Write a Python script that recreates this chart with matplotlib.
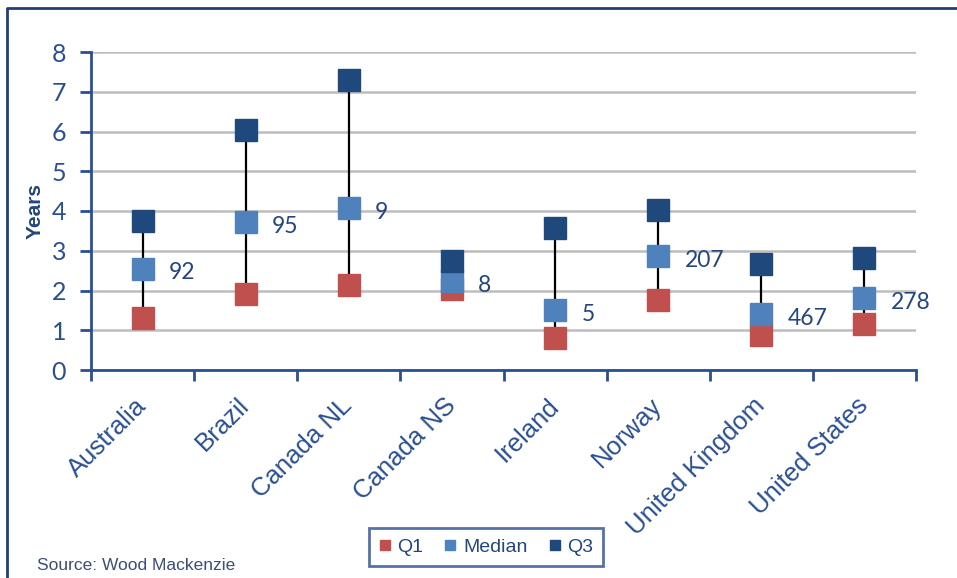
import matplotlib
matplotlib.use("Agg")
import matplotlib.pyplot as plt
import numpy as np
from matplotlib.lines import Line2D
from matplotlib.transforms import ScaledTranslation

# Time-to-first-production quartiles by region (years)
countries = ["Australia", "Brazil", "Canada NL", "Canada NS",
             "Ireland", "Norway", "United Kingdom", "United States"]
q1 = [1.30, 1.91, 2.15, 2.05, 0.81, 1.76, 0.87, 1.16]
median = [2.55, 3.72, 4.07, 2.24, 1.51, 2.87, 1.41, 1.81]
q3 = [3.76, 6.03, 7.30, 2.75, 3.56, 4.02, 2.66, 2.81]
sample_counts = ["92", "95", "9", "8", "5", "207", "467", "278"]
y_ticks = [0, 1, 2, 3, 4, 5, 6, 7, 8]

C_Q1 = "#C0504D"
C_MED = "#4F81BD"
C_Q3 = "#1F497D"
AXIS_BLUE = "#2A4F92"
TEXT_BLUE = "#23467F"

fig = plt.figure(figsize=(9.57, 5.78), dpi=100)
ax = fig.add_axes([91 / 957, 1 - 370 / 578, (916 - 91) / 957, (370 - 52) / 578])

x = np.arange(len(countries))

# whiskers from Q1 to Q3
ax.vlines(x, q1, q3, color="black", lw=1.6, zorder=2)
ms = 15.5
ax.plot(x, q1, ls="none", marker="s", ms=ms, color=C_Q1, mec=C_Q1, zorder=3, label="Q1")
ax.plot(x, median, ls="none", marker="s", ms=ms, color=C_MED, mec=C_MED, zorder=4, label="Median")
ax.plot(x, q3, ls="none", marker="s", ms=ms, color=C_Q3, mec=C_Q3, zorder=5, label="Q3")

# sample-size labels next to the median
for xi, m, s in zip(x, median, sample_counts):
    ax.annotate(s, (xi, m), xytext=(19, -3), textcoords="offset points",
                ha="left", va="center", fontsize=16.5, family="Lato",
                color=TEXT_BLUE, zorder=6)

ax.set_xlim(-0.5, len(countries) - 0.5)
ax.set_ylim(0, 8)
ax.set_yticks(y_ticks)
ax.set_yticklabels([str(t) for t in y_ticks], family="Lato", fontsize=18, color=AXIS_BLUE)
ax.yaxis.grid(True, color="#BDBDBD", lw=1.8, zorder=0)
ax.set_axisbelow(True)

ax.set_xticks(x)
ax.set_xticks(np.arange(-0.5, len(countries)), minor=True)
ax.tick_params(axis="x", which="major", length=0, pad=17)
ax.tick_params(axis="x", which="minor", length=8, width=2, color=AXIS_BLUE, direction="out")
ax.tick_params(axis="y", length=8, width=2, color=AXIS_BLUE, direction="out", pad=10)
ax.set_xticklabels(countries, rotation=45, ha="right", va="top",
                   family="Liberation Sans", fontsize=18.5, color=AXIS_BLUE)
shift = ScaledTranslation(6 / 72, 0, fig.dpi_scale_trans)
for lab in ax.get_xticklabels():
    lab.set_transform(lab.get_transform() + shift)

for side in ("top", "right"):
    ax.spines[side].set_visible(False)
for side in ("left", "bottom"):
    ax.spines[side].set_color(AXIS_BLUE)
    ax.spines[side].set_linewidth(2)

ax.set_ylabel("Years", fontsize=15, fontweight="bold", family="Liberation Sans",
              color=TEXT_BLUE, labelpad=5)

leg = fig.legend(loc="center", bbox_to_anchor=(486 / 957, 1 - 547 / 578),
                 ncol=3, frameon=True, fancybox=False, markerscale=0.5,
                 handlelength=0.6, handletextpad=0.35, columnspacing=1.1,
                 borderpad=0.5, prop={"family": "Liberation Sans", "size": 14})
leg.get_frame().set_edgecolor(AXIS_BLUE)
leg.get_frame().set_linewidth(2)
for t in leg.get_texts():
    t.set_color(TEXT_BLUE)

fig.text(37 / 957, 1 - 566 / 578, "Source: Wood Mackenzie", fontsize=12.5,
         family="Liberation Sans", color="#3A4E78", ha="left", va="center")

# outer chart frame
fig.add_artist(Line2D([7 / 957, 7 / 957, 1.0], [0.0, 1 - 7.5 / 578, 1 - 7.5 / 578],
                      transform=fig.transFigure, color="#1F3F7F", lw=2))

fig.savefig("out.png", dpi=100)
